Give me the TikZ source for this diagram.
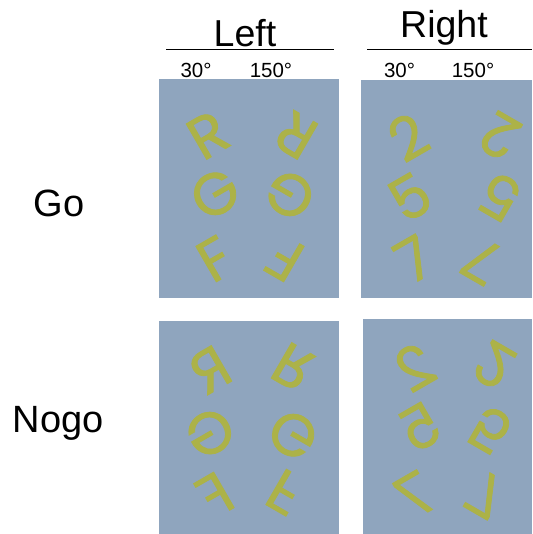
\documentclass[tikz,border=0pt]{standalone}
\usepackage{fontspec}
\setmainfont{Liberation Sans}
\newfontfamily\glyphfont{Poppins}[FakeBold=1.3]
\usepackage{graphicx}
\definecolor{panelc}{RGB}{143,165,190}
\definecolor{glyphc}{RGB}{172,178,72}
\newcommand\gr[2]{\rotatebox{#1}{#2}}
\newcommand\gm[2]{\rotatebox{#1}{\reflectbox{#2}}}
\begin{document}
\begin{tikzpicture}[x=1pt,y=-1pt,
  glyph/.style={text=glyphc, font=\glyphfont\fontsize{59}{59}\selectfont, inner sep=0pt},
  head/.style={font=\fontsize{37.5}{37.5}\selectfont, inner sep=0pt, anchor=base},
  angle/.style={font=\fontsize{20.5}{20.5}\selectfont, inner sep=0pt, anchor=base},
  rowlab/.style={font=\fontsize{38}{38}\selectfont, inner sep=0pt, anchor=base}]
\useasboundingbox (0,0) rectangle (532,534);
% panels
\fill[panelc] (159,79) rectangle (339,298);
\fill[panelc] (361,80) rectangle (532,298);
\fill[panelc] (159,321) rectangle (339,534);
\fill[panelc] (363,319) rectangle (532,534);
% headings
\node[head] (left) at (245,47) {Left};
\node[head] (right) at (444,37.5) {Right};
\coordinate (l1) at (166,49.3);
\coordinate (l2) at (334,49.3);
\coordinate (r1) at (367,49.3);
\coordinate (r2) at (532,49.3);
\draw[line width=1.5pt] (l1) -- (l2);
\draw[line width=1.5pt] (r1) -- (r2);
\node[angle] (a1) at (196,78) {30°};
\node[angle] (a2) at (271,78) {150°};
\node[angle] (a3) at (399.5,78) {30°};
\node[angle] (a4) at (473,78) {150°};
\node[rowlab] (go) at (59,217) {Go};
\node[rowlab] (nogo) at (58,432) {Nogo};
% Go left
\node[glyph] (gR1) at (208,135) {\gr{30}{R}};
\node[glyph] (gR2) at (296,135) {\gr{150}{R}};
\node[glyph] (gG1) at (215,194) {\gr{30}{G}};
\node[glyph] (gG2) at (290,195) {\gr{150}{G}};
\node[glyph] (gF1) at (215,259) {\gr{30}{F}};
\node[glyph] (gF2) at (285,259) {\gr{150}{F}};
% Go right
\node[glyph] (g21) at (408,137) {\gr{30}{2}};
\node[glyph] (g22) at (500,136) {\gr{150}{2}};
\node[glyph] (g51) at (410,197) {\gr{30}{5}};
\node[glyph] (g52) at (500,197) {\gr{150}{5}};
\node[glyph] (g71) at (414,259) {\gr{30}{7}};
\node[glyph] (g72) at (482,261) {\gr{150}{7}};
% Nogo left
\node[glyph] (nR1) at (210,370) {\gm{30}{R}};
\node[glyph] (nR2) at (293,367) {\gm{150}{R}};
\node[glyph] (nG1) at (210,433) {\gm{30}{G}};
\node[glyph] (nG2) at (293,435) {\gm{150}{G}};
\node[glyph] (nF1) at (215,495) {\gm{30}{F}};
\node[glyph] (nF2) at (285,492) {\gm{150}{F}};
% Nogo right
\node[glyph] (n21) at (415,367) {\gm{30}{2}};
\node[glyph] (n22) at (494,365) {\gm{150}{2}};
\node[glyph] (n51) at (420,427) {\gm{30}{5}};
\node[glyph] (n52) at (490,430) {\gm{150}{5}};
\node[glyph] (n71) at (415,495) {\gm{30}{7}};
\node[glyph] (n72) at (486,495) {\gm{150}{7}};
\end{tikzpicture}
\end{document}
